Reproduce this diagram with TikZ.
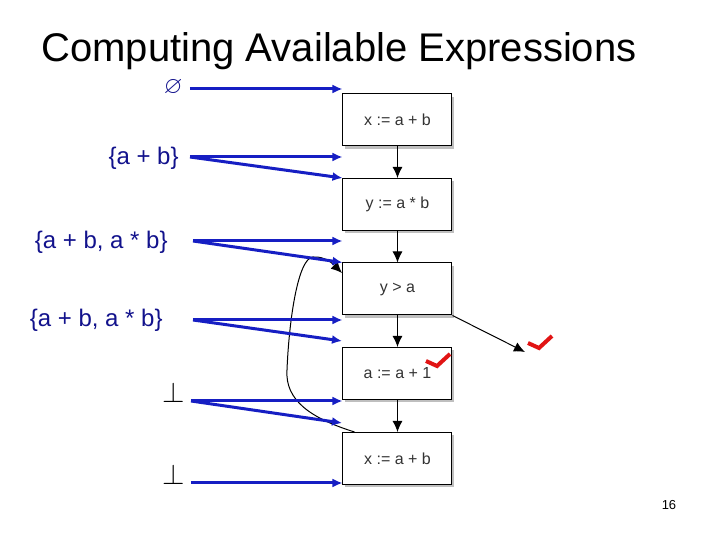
\documentclass[tikz,border=0pt]{standalone}
\usepackage{amssymb}
\usepackage{fontspec}
\setmainfont{Liberation Sans}
\usetikzlibrary{arrows.meta,shadows,calc}
\definecolor{navy}{RGB}{18,18,140}
\definecolor{lineblue}{RGB}{22,30,195}
\definecolor{chk}{RGB}{225,20,20}
\tikzset{
  blk/.style={draw=black,line width=0.5pt,fill=white,minimum width=54.5pt,minimum height=26pt,inner sep=0pt,
    font=\fontsize{8}{9}\selectfont,text=black!80,
    drop shadow={shadow xshift=1pt,shadow yshift=-1.5pt,fill=black,opacity=0.25}},
  lbl/.style={text=navy,font=\fontsize{12}{14}\selectfont,inner sep=0pt,anchor=east},
  flow/.style={draw=lineblue,line width=1.5pt,-{Latex[length=5pt,width=4.5pt]}},
  ctl/.style={draw=black,line width=0.5pt,-{Latex[length=5.5pt,width=5pt]}},
  check/.style={draw=chk,line width=2pt,line join=miter}
}
\begin{document}
\begin{tikzpicture}[x=0.5pt,y=-0.5pt]
\useasboundingbox (0,0) rectangle (720,540);
% title
\node[anchor=base,inner sep=0pt,font=\fontsize{20}{24}\selectfont] (title) at (339,62) {Computing Available Expressions};
% blocks
\node[blk] (b1) at (397.5,120) {x := a + b};
\node[blk] (b2) at (397.5,204.5) {y := a * b};
\node[blk] (b3) at (397.5,289) {y > a};
\node[blk] (b4) at (397.5,373.5) {a := a + 1};
\node[blk] (b5) at (397.5,458.5) {x := a + b};
% control arrows
\draw[ctl] (b1) -- (b2);
\draw[ctl] (b2) -- (b3);
\draw[ctl] (b3) -- (b4);
\draw[ctl] (b4) -- (b5);
\coordinate (exitend) at (525,352);
\draw[ctl] (b3.south east) -- (exitend);
% loop back
\coordinate (loopend) at (342,273);
\draw[ctl] ($(b5.north west)+(12,0)$) .. controls (310,418) and (285,400) .. (287,370)
   .. controls (289,320) and (298,258) .. (313,257)
   .. controls (325,256) and (333,264) .. (loopend);
% labels
\node[lbl,font=\fontsize{12}{14}\selectfont] (l1) at (183,88) {$\varnothing$};
\node[lbl] (l2) at (179,158) {\{a + b\}};
\node[lbl] (l3) at (168,242) {\{a + b, a * b\}};
\node[lbl] (l4) at (163,320) {\{a + b, a * b\}};
\node[inner sep=0pt,anchor=base,font=\fontsize{14}{16}\selectfont] (l5) at (174,403) {$\bot$};
\node[inner sep=0pt,anchor=base,font=\fontsize{14}{16}\selectfont] (l6) at (174,485) {$\bot$};
% starting points
\coordinate (s1) at (190,89);
\coordinate (s2) at (190,157);
\coordinate (s3) at (193,241);
\coordinate (s4) at (193,320);
\coordinate (s5) at (191,401);
\coordinate (s6) at (191,483);
\coordinate (e5) at (342,423);
\coordinate (e4) at (342,341);
% flow arrows
\draw[flow] (s1) -- (s1 -| b1.west);
\draw[flow] (s2) -- (s2 -| b1.west);
\draw[flow] (s2) -- (b2.north west);
\draw[flow] (s3) -- (s3 -| b1.west);
\draw[flow] (s3) -- (b3.north west);
\draw[flow] (s4) -- (s4 -| b1.west);
\draw[flow] (s4) -- (e4);
\draw[flow] (s5) -- (s5 -| b1.west);
\draw[flow] (s5) -- (e5);
\draw[flow] (s6) -- (s6 -| b1.west);
% checks
\draw[check] (426,361) -- (437,366) -- (450,354);
\draw[check] (528,343) -- (539,348) -- (552,336);
% page number
\node[inner sep=0pt,font=\fontsize{6.5}{8}\selectfont] (pg) at (669,505) {16};
\end{tikzpicture}
\end{document}
